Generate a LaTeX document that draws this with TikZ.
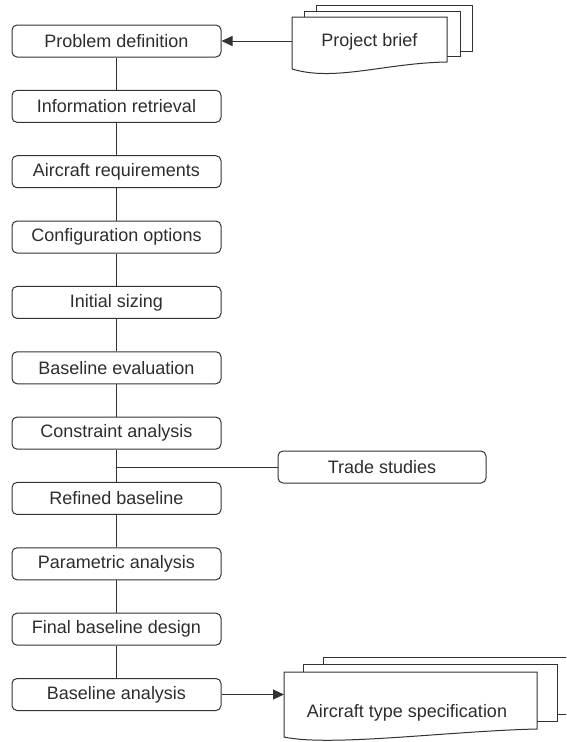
\documentclass[tikz,border=0pt]{standalone}
\usepackage{fontspec}
\setmainfont{Liberation Sans}
\usetikzlibrary{arrows.meta,calc}
\definecolor{linec}{RGB}{50,50,50}
\definecolor{txtc}{RGB}{45,45,45}
\begin{document}
\begin{tikzpicture}[x=1pt,y=-1pt,
  stepbox/.style={draw=linec, line width=1pt, rounded corners=5pt, minimum width=209pt, minimum height=32pt, inner sep=0pt, font=\fontsize{18}{20}\selectfont, text=txtc},
  sheet/.style={draw=linec, fill=white, line width=1pt},
  doclabel/.style={inner sep=0pt, font=\fontsize{18}{20}\selectfont, text=txtc},
  conn/.style={draw=linec, line width=1pt},
  arr/.style={conn, -{Triangle[length=11pt,width=10pt]}}]
\useasboundingbox (0,0) rectangle (566,742);
\clip (0,0) rectangle (566,742);
% main chain
\node[stepbox] (pd) at (116.5,41) {Problem definition};
\node[stepbox] (ir) at (116.5,106.35) {Information retrieval};
\node[stepbox] (ar) at (116.5,171.7) {Aircraft requirements};
\node[stepbox] (co) at (116.5,237.05) {Configuration options};
\node[stepbox] (is) at (116.5,302.4) {Initial sizing};
\node[stepbox] (be) at (116.5,367.75) {Baseline evaluation};
\node[stepbox] (ca) at (116.5,433.1) {Constraint analysis};
\node[stepbox] (rb) at (116.5,498.45) {Refined baseline};
\node[stepbox] (pa) at (116.5,563.8) {Parametric analysis};
\node[stepbox] (fb) at (116.5,629.15) {Final baseline design};
\node[stepbox] (ba) at (116.5,694.5) {Baseline analysis};
\node[stepbox, minimum width=208pt] (ts) at (382,467) {Trade studies};
\draw[conn] (pd) -- (ir);
\draw[conn] (ir) -- (ar);
\draw[conn] (ar) -- (co);
\draw[conn] (co) -- (is);
\draw[conn] (is) -- (be);
\draw[conn] (be) -- (ca);
\draw[conn] (ca) -- (rb);
\draw[conn] (rb) -- (pa);
\draw[conn] (pa) -- (fb);
\draw[conn] (fb) -- (ba);
\coordinate (tj) at (116.5,467);
\draw[conn] (tj) -- (ts.west);
% project brief stack
\draw[sheet] (316,5) rectangle (472,51);
\draw[sheet] (304,11) rectangle (460,56);
\draw[sheet] (292,69) -- (292,17) -- (447,17) -- (447,62) .. controls (385,63) and (335,82) .. (292,69) -- cycle;
\node[doclabel] (pb) at (369.5,42) {Project brief};
\coordinate (pbL) at (292,41);
\draw[arr] (pbL) -- (pd.east);
% aircraft type specification stack
\draw[sheet] (323,657) rectangle (590,714);
\draw[sheet] (303,664) rectangle (557,721);
\draw[sheet] (284,737) -- (284,672) -- (537,672) -- (537,729) .. controls (450,731) and (330,747) .. (284,737) -- cycle;
\node[doclabel] (ats) at (407,713) {Aircraft type specification};
\coordinate (atsL) at (284,694.5);
\draw[arr] (ba.east) -- (atsL);
\end{tikzpicture}
\end{document}
